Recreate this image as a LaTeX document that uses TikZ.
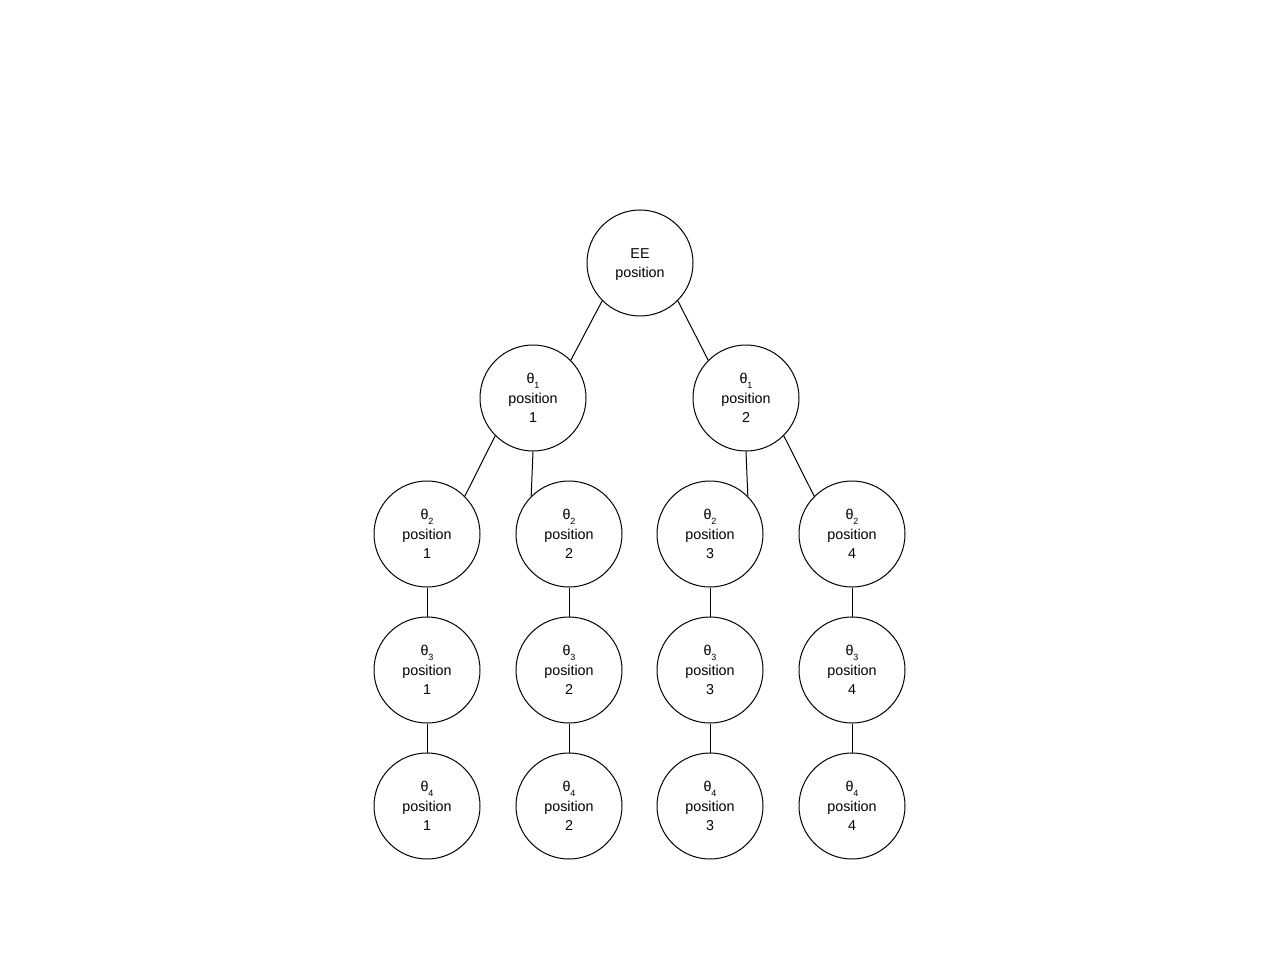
\documentclass[tikz,border=0pt]{standalone}
\usepackage{fontspec}
\setmainfont{Liberation Sans}
\newcommand{\thsub}[1]{θ\raisebox{-4.5pt}{\fontsize{9}{9}\selectfont #1}}
\begin{document}
\begin{tikzpicture}[x=1pt,y=-1pt,
  st/.style={circle,draw=black,line width=1pt,minimum size=106pt,inner sep=0pt,align=center,
    font=\fontsize{14.3}{19}\selectfont},
  txt/.style={align=center,inner sep=0pt,font=\fontsize{14.3}{19}\selectfont},
  conn/.style={draw=black,line width=1pt}]
\useasboundingbox[fill=white] (0,0) rectangle (1280,960);
\node[st,label={[txt,yshift=-1.5pt]center:EE\\position}] (ee) at (640,263) {};
\node[st] (a1) at (533,398) {\thsub{1}\\[0.5pt]position\\1};
\node[st] (a2) at (746,398) {\thsub{1}\\[0.5pt]position\\2};
\foreach \i/\x in {1/427,2/569,3/710,4/852}{
  \node[st] (b\i) at (\x,534) {\thsub{2}\\[0.5pt]position\\\i};
  \node[st] (c\i) at (\x,670) {\thsub{3}\\[0.5pt]position\\\i};
  \node[st] (d\i) at (\x,806) {\thsub{4}\\[0.5pt]position\\\i};
  \draw[conn] (b\i.south) -- (c\i.north);
  \draw[conn] (c\i.south) -- (d\i.north);
}
\draw[conn] (ee.225) -- (a1.45);
\draw[conn] (ee.315) -- (a2.135);
\draw[conn] (a1.225) -- (b1.45);
\draw[conn] (a1.south) -- (b2.135);
\draw[conn] (a2.south) -- (b3.45);
\draw[conn] (a2.315) -- (b4.135);
\end{tikzpicture}
\end{document}
